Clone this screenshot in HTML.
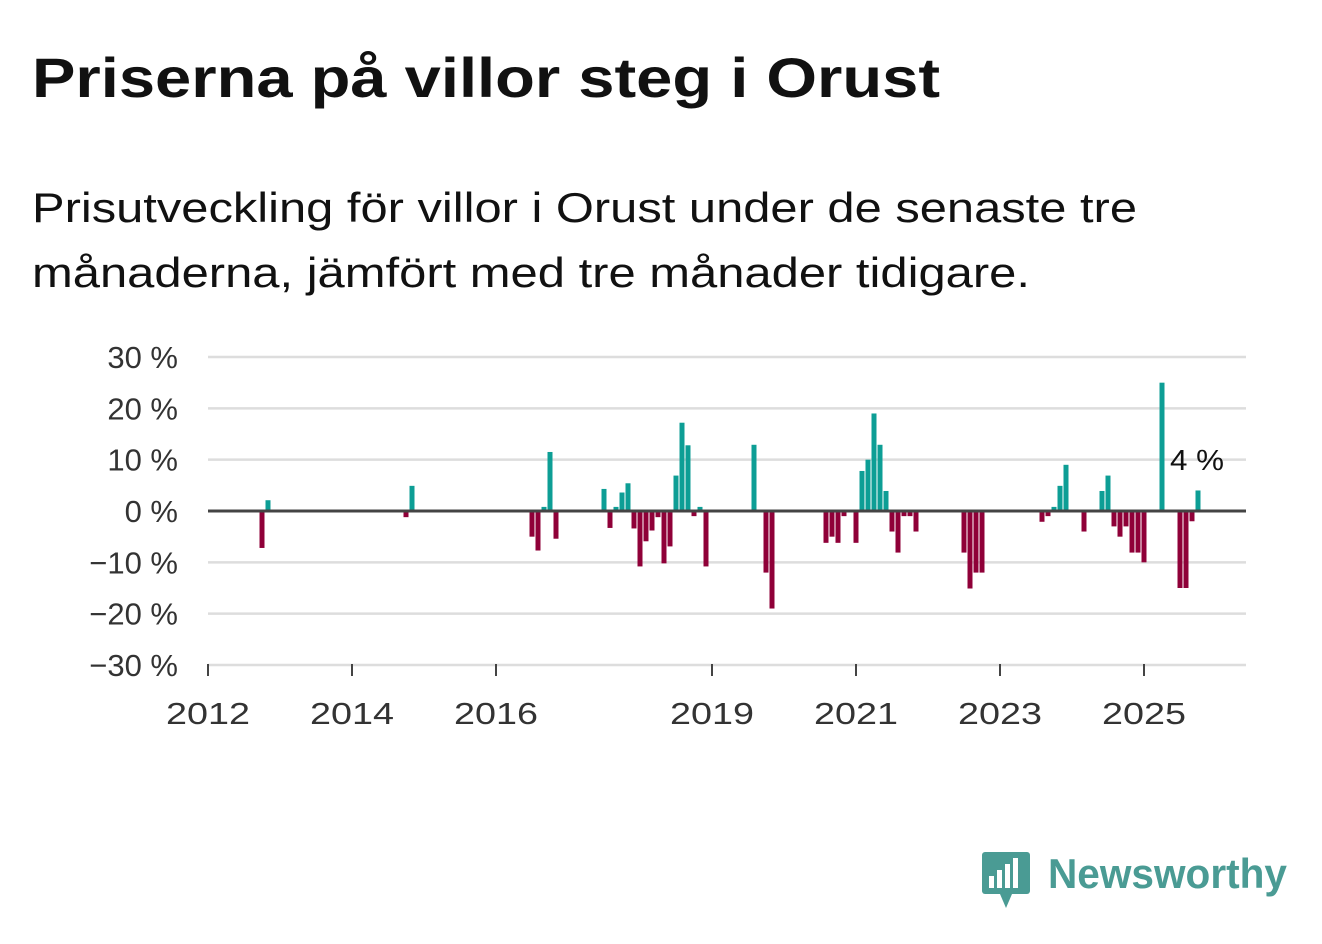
<!DOCTYPE html>
<html><head><meta charset="utf-8"><style>
body{margin:0;background:#fff;width:1322px;height:939px;overflow:hidden;font-family:"Liberation Sans",sans-serif;}
</style></head><body>
<svg width="1322" height="939">
<text x="32" y="97" font-size="56" font-weight="bold" fill="#111" textLength="908" lengthAdjust="spacingAndGlyphs">Priserna på villor steg i Orust</text>
<text x="32" y="222" font-size="42" fill="#111" textLength="1105" lengthAdjust="spacingAndGlyphs">Prisutveckling för villor i Orust under de senaste tre</text>
<text x="32" y="287" font-size="42" fill="#111" textLength="998" lengthAdjust="spacingAndGlyphs">månaderna, jämfört med tre månader tidigare.</text>
<g id="grid"></g><g id="bars"></g><g id="axes"></g>
<text x="1170" y="470" font-size="29" fill="#111" textLength="54" lengthAdjust="spacingAndGlyphs">4 %</text>
<g>
<rect x="982" y="852" width="48" height="42" rx="3" fill="#4a9b94"/>
<polygon points="1000,894 1012,894 1006,908" fill="#4a9b94"/>
<rect x="989" y="876" width="5" height="12" fill="#fff"/><rect x="997" y="870" width="5" height="18" fill="#fff"/><rect x="1005" y="864" width="5" height="24" fill="#fff"/><rect x="1013" y="858" width="5" height="30" fill="#fff"/>
<text x="1048" y="888" font-size="42" font-weight="bold" fill="#4a9b94" textLength="239" lengthAdjust="spacingAndGlyphs">Newsworthy</text>
</g>
</svg>
<script>
const monthIdx=[9,10,33,34,54,55,56,57,58,66,67,68,69,70,71,72,73,74,75,76,77,78,79,80,81,82,83,91,93,94,103,104,105,106,108,109,110,111,112,113,114,115,116,117,118,126,127,128,129,139,140,141,142,143,146,149,150,151,152,153,154,155,156,159,162,163,164,165];
const values=[-7.2,2.1,-1.2,4.9,-5,-7.7,0.8,11.5,-5.4,4.3,-3.3,0.8,3.6,5.4,-3.4,-10.8,-5.9,-3.8,-1.2,-10.2,-6.9,6.9,17.2,12.8,-1,0.8,-10.8,12.9,-12,-19,-6.2,-5,-6.2,-1,-6.2,7.8,10,19,12.9,3.9,-4,-8.1,-1,-1,-4,-8.1,-15.1,-12,-12,-2.1,-1,0.8,4.9,9,-4,3.9,6.9,-3,-5,-3,-8.1,-8.1,-10,25,-15,-15,-2,4];
const yTicks=[30,20,10,0,-10,-20,-30];
const yTickLabels=["30 %","20 %","10 %","0 %","−10 %","−20 %","−30 %"];
const xTickYears=[2012,2014,2016,2019,2021,2023,2025];
const NS="http://www.w3.org/2000/svg";
const y=v=>511-v*5.133;
const x=i=>208+6*i;
const xYear=yr=>x((yr-2012)*12);
function mk(tag,attrs,parent){const e=document.createElementNS(NS,tag);for(const k in attrs)e.setAttribute(k,attrs[k]);parent.appendChild(e);return e;}
const g=document.getElementById('grid'),b=document.getElementById('bars'),a=document.getElementById('axes');
yTicks.forEach((t,i)=>{
 if(t!==0){const l=mk('line',{x1:208,x2:1246,y1:y(t),y2:y(t),stroke:'#ddd','stroke-width':2.5},g);
 
 }
 const tx=mk('text',{x:178,y:y(t)+11,'font-size':31,'text-anchor':'end',fill:'#333'},a);
 tx.textContent=yTickLabels[i];
 
 
});
monthIdx.forEach((m,i)=>{
 const v=values[i];
 const r=mk('rect',{x:x(m)-2.5,width:5,y:Math.min(y(v),511),height:Math.abs(y(v)-511),fill:v>=0?'#0d9e95':'#8f0038'},b);
 
 
});
const z=mk('line',{x1:208,x2:1246,y1:511,y2:511,stroke:'#444','stroke-width':3},a);


xTickYears.forEach(yr=>{
 const tk=mk('line',{x1:xYear(yr),x2:xYear(yr),y1:664,y2:676,stroke:'#444','stroke-width':2},a);
 
 
 const tx=mk('text',{x:xYear(yr),y:724,'font-size':31,'text-anchor':'middle',fill:'#333',textLength:84,lengthAdjust:'spacingAndGlyphs'},a);
 tx.textContent=yr;
 
 
});
</script>
</body></html>
